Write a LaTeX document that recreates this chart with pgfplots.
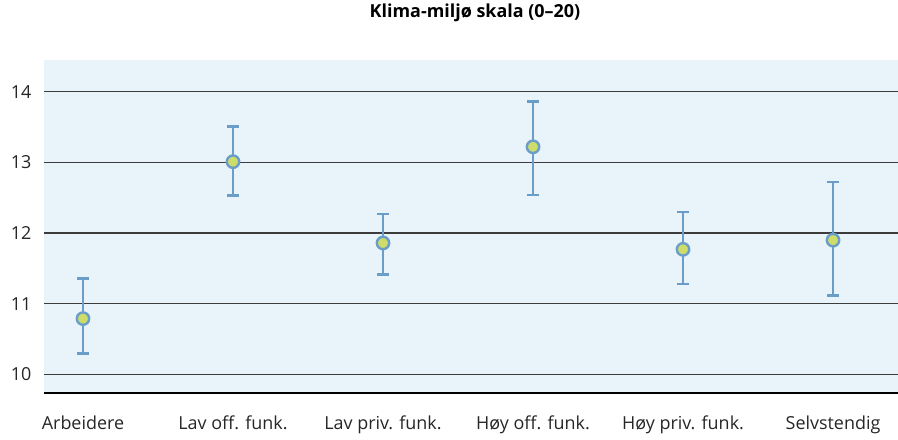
\documentclass[border=0pt]{standalone}
\usepackage{fontspec}
\setmainfont{Open Sans}
\usepackage{pgfplots}
\pgfplotsset{compat=1.18}
\definecolor{bgblue}{HTML}{E8F3FA}
\definecolor{errblue}{HTML}{6A9DC8}
\definecolor{dotgreen}{HTML}{CEDC6A}
\definecolor{gridgray}{HTML}{3C3C3C}
\begin{document}
\begin{tikzpicture}
\path[use as bounding box] (-44bp,-47bp) rectangle (854bp,393bp);
\begin{axis}[
  at={(0,0)}, anchor=south west,
  scale only axis, width=854bp, height=333bp,
  xmin=-0.26, xmax=5.433, ymin=9.738, ymax=14.448,
  axis background/.style={fill=bgblue},
  axis x line*=bottom, axis y line*=left,
  x axis line style={draw=black, line width=1.2bp, -},
  y axis line style={draw=none},
  xtick={0,...,5},
  xticklabels={Arbeidere, Lav off. funk., Lav priv. funk., Høy off. funk., Høy priv. funk., Selvstendig},
  ytick={10,11,12,13,14},
  ymajorgrids, grid style={gridgray, line width=1.2bp},
  major tick length=0pt,
  tick label style={font=\fontsize{18}{20}\selectfont, color=black!85},
  yticklabel style={xshift=-9bp},
  xticklabel style={yshift=-19bp},
  /pgf/number format/assume math mode=true,
  title={Klima-miljø skala (0–20)},
  title style={font=\bfseries\fontsize{18}{20}\selectfont, at={(0.5,1)}, anchor=center, yshift=41bp, xshift=4bp},
  clip=false,
]
\addplot[
  only marks,
  mark=*,
  mark size=6.2bp,
  mark options={fill=dotgreen, draw=errblue, line width=2.4bp},
  error bars/.cd,
    y dir=both, y explicit,
    error mark=-,
    error mark options={errblue, line width=2.6bp, mark size=6bp, rotate=90},
    error bar style={errblue, line width=2.6bp},
] table[x=x, y=y, y error plus=ep, y error minus=em] {
x y ep em
0 10.79 0.57 0.49
1 13.01 0.50 0.48
2 11.86 0.41 0.45
3 13.22 0.64 0.68
4 11.77 0.53 0.49
5 11.90 0.82 0.78
};
\end{axis}
\end{tikzpicture}
\end{document}
